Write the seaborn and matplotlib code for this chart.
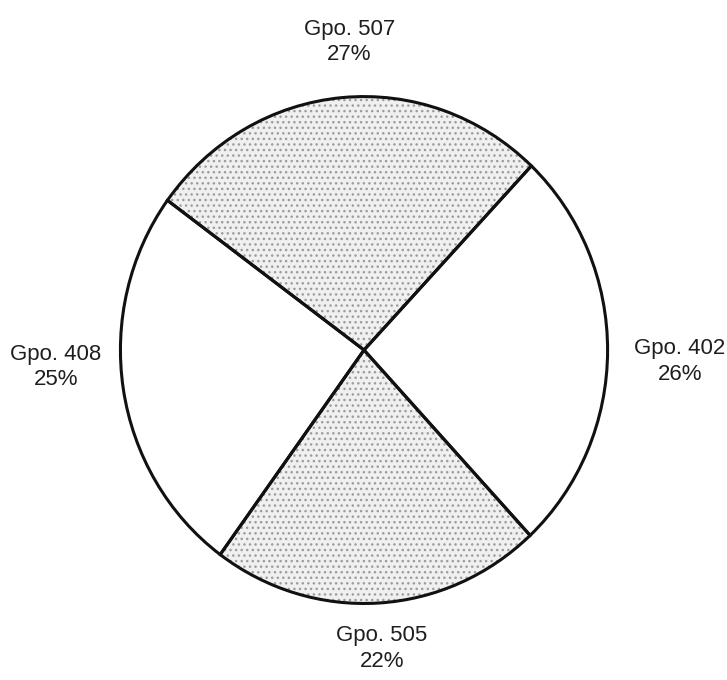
import matplotlib
matplotlib.use("Agg")
import matplotlib.pyplot as plt
import seaborn as sns

# Datos del gráfico (porcentajes por grupo)
grupos = ["Gpo. 507", "Gpo. 408", "Gpo. 505", "Gpo. 402"]
porcentajes = [27, 25, 22, 26]
sombreado = [True, False, True, False]

sns.set_theme(style="white")
plt.rcParams["font.family"] = ["Liberation Sans", "DejaVu Sans"]
plt.rcParams["hatch.linewidth"] = 1.0

etiquetas = [f"{g}\n{p}%" for g, p in zip(grupos, porcentajes)]
colores = ["#f0f0f0" if s else "white" for s in sombreado]
# pequeño ajuste de las etiquetas para parecerse al original
ajustes = [(0.05, 0.0), (-0.06, 0.12), (0.0, 0.04), (0.077, -0.04)]

fig = plt.figure(figsize=(7.27, 6.8), dpi=100)
ax = fig.add_axes([0.1623, 0.1088, 0.6768, 0.7529])

# Relleno punteado (sin borde)
cunas, _ = ax.pie(porcentajes, colors=colores, startangle=46.6,
                  counterclock=True, radius=1,
                  wedgeprops=dict(linewidth=0, edgecolor="#9c9c9c"))
for cuna, s in zip(cunas, sombreado):
    if s:
        cuna.set_hatch("...")

# Bordes negros y etiquetas
cunas2, textos = ax.pie(porcentajes, labels=etiquetas, startangle=46.6,
                        counterclock=True, radius=1, labeldistance=1.22,
                        wedgeprops=dict(fill=False, linewidth=2.2,
                                        edgecolor="#111111"),
                        textprops=dict(fontsize=16, color="#1e1e1e"))
for t, (dx, dy) in zip(textos, ajustes):
    x, y = t.get_position()
    t.set_position((x + dx, y + dy))
    t.set_ha("center")
    t.set_va("center")
    t.set_linespacing(1.3)

ax.set_aspect("auto")
ax.set_xlim(-1.01, 1.01)
ax.set_ylim(-1.01, 1.01)
ax.axis("off")

plt.savefig("out.png", dpi=100)
plt.close()
